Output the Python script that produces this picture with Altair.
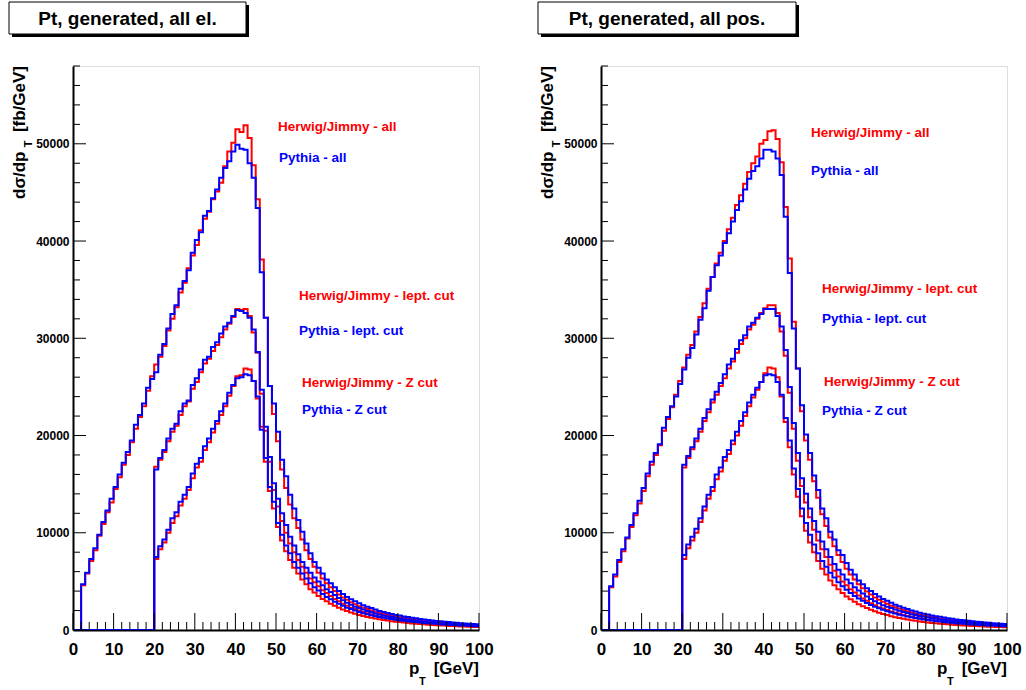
import altair as alt
import pandas as pd

# ---------------- data (fb/GeV per 1 GeV bin, bins 0..99) ----------------
PT_EDGES = list(range(101))

EL_HERWIG_ALL = [
    0, 0, 4600, 5800, 7100, 8200, 9700, 10900, 12100, 13100,
    14500, 15700, 17000, 18000, 19300, 20700, 21900, 23000, 24600, 26100,
    27300, 28100, 29200, 30800, 32000, 33200, 34700, 35700, 37200, 38500,
    39600, 41100, 42300, 43000, 44300, 45100, 46000, 47700, 49200, 50100,
    51500, 51200, 51900, 50600, 47800, 44300, 38100, 32100, 25100, 22200,
    19400, 16500, 14600, 12900, 11500, 10500, 9300, 8200, 7300, 6500,
    5900, 5300, 4800, 4400, 4000, 3650, 3350, 3100, 2850, 2650,
    2450, 2300, 2150, 2000, 1880, 1760, 1650, 1550, 1460, 1380,
    1300, 1230, 1160, 1100, 1040, 990, 940, 890, 850, 810,
    770, 730, 700, 660, 630, 600, 570, 550, 520, 500]
EL_PYTHIA_ALL = [
    0, 0, 4700, 5900, 7300, 8400, 9800, 11100, 12300, 13500,
    14700, 16000, 17200, 18300, 19500, 21100, 22100, 23300, 24900, 25800,
    26500, 28300, 29400, 31000, 32500, 33400, 35100, 35900, 37000, 38800,
    40100, 40900, 42600, 43100, 44400, 45300, 46500, 47500, 48200, 49200,
    49900, 49500, 49400, 48000, 46500, 43400, 36800, 32100, 25100, 23300,
    20400, 17500, 15800, 13900, 12500, 11300, 10100, 8900, 7900, 7000,
    6400, 5800, 5200, 4800, 4400, 4000, 3700, 3400, 3150, 2950,
    2750, 2550, 2400, 2250, 2100, 1950, 1850, 1750, 1650, 1550,
    1480, 1400, 1330, 1260, 1200, 1140, 1080, 1030, 980, 930,
    890, 850, 810, 770, 740, 700, 670, 640, 610, 580]
EL_HERWIG_LEPT = [
    0, 0, 0, 0, 0, 0, 0, 0, 0, 0,
    0, 0, 0, 0, 0, 0, 0, 0, 0, 0,
    16800, 17500, 18300, 19400, 20400, 21000, 22100, 23000, 23500, 24800,
    25500, 26500, 27400, 27900, 28700, 29300, 30100, 30900, 31500, 32200,
    33000, 32900, 33000, 32300, 30600, 28500, 24300, 20500, 17300, 14400,
    12700, 11200, 10000, 8900, 8000, 7200, 6500, 5900, 5300, 4900,
    4500, 4100, 3800, 3500, 3200, 2950, 2700, 2500, 2300, 2150,
    2000, 1850, 1720, 1600, 1500, 1400, 1310, 1230, 1150, 1080,
    1010, 950, 890, 840, 790, 750, 710, 670, 630, 600,
    570, 540, 510, 490, 460, 440, 420, 400, 380, 360]
EL_PYTHIA_LEPT = [
    0, 0, 0, 0, 0, 0, 0, 0, 0, 0,
    0, 0, 0, 0, 0, 0, 0, 0, 0, 0,
    16500, 17700, 18500, 19700, 20700, 21200, 22500, 23300, 23600, 25200,
    25900, 26800, 27800, 28100, 29100, 29600, 30500, 31200, 31600, 32300,
    32900, 32800, 32600, 32100, 30900, 28600, 24700, 20900, 17800, 15100,
    13500, 12000, 10800, 9600, 8700, 7800, 7000, 6400, 5900, 5400,
    5000, 4600, 4200, 3900, 3600, 3300, 3050, 2800, 2600, 2400,
    2250, 2100, 1950, 1820, 1700, 1600, 1500, 1410, 1330, 1250,
    1180, 1110, 1050, 990, 940, 890, 840, 800, 760, 720,
    680, 650, 620, 590, 560, 530, 510, 480, 460, 440]
EL_HERWIG_Z = [
    0, 0, 0, 0, 0, 0, 0, 0, 0, 0,
    0, 0, 0, 0, 0, 0, 0, 0, 0, 0,
    7300, 8300, 9000, 10000, 11000, 11700, 12800, 13500, 14400, 15600,
    16700, 17300, 18500, 19300, 20300, 21200, 22100, 23000, 24100, 25100,
    26100, 26200, 26900, 26800, 25600, 23800, 20900, 17300, 14300, 12500,
    10600, 9200, 8100, 7200, 6400, 5800, 5200, 4700, 4200, 3850,
    3500, 3200, 2950, 2700, 2500, 2300, 2100, 1950, 1800, 1670,
    1550, 1440, 1340, 1250, 1170, 1100, 1030, 970, 910, 860,
    810, 760, 720, 680, 640, 610, 580, 550, 520, 490,
    470, 450, 420, 400, 380, 360, 350, 330, 320, 300]
EL_PYTHIA_Z = [
    0, 0, 0, 0, 0, 0, 0, 0, 0, 0,
    0, 0, 0, 0, 0, 0, 0, 0, 0, 0,
    7500, 8600, 9300, 10300, 11500, 12100, 13200, 13900, 14700, 16100,
    17100, 17700, 18900, 19700, 20700, 21500, 22500, 23300, 24400, 25200,
    25900, 26000, 26300, 26200, 25600, 24000, 20600, 17700, 14700, 13200,
    11000, 9800, 8700, 7900, 7000, 6400, 5800, 5300, 4800, 4400,
    4050, 3700, 3400, 3150, 2900, 2700, 2500, 2300, 2150, 2000,
    1850, 1730, 1620, 1520, 1420, 1340, 1260, 1190, 1120, 1060,
    1000, 950, 900, 850, 810, 770, 730, 690, 660, 630,
    600, 570, 540, 520, 500, 470, 450, 430, 410, 390]

POS_HERWIG_ALL = [
    0, 0, 4400, 5500, 7000, 8100, 9400, 10600, 11800, 13000,
    14300, 15800, 17000, 18000, 19000, 20500, 21700, 22900, 24200, 25600,
    27000, 28300, 29300, 30700, 32200, 33600, 35100, 36300, 37700, 38800,
    40000, 41200, 42400, 43700, 44700, 45900, 47100, 48000, 48700, 50000,
    50400, 51300, 51400, 50500, 48100, 43500, 38200, 31700, 26900, 22500,
    19500, 17500, 15300, 13600, 11900, 10700, 9500, 8600, 7700, 7000,
    6300, 5700, 5200, 4700, 4300, 3950, 3650, 3350, 3100, 2900,
    2700, 2500, 2350, 2200, 2050, 1920, 1800, 1690, 1590, 1500,
    1410, 1330, 1250, 1180, 1120, 1060, 1000, 950, 900, 860,
    810, 770, 740, 700, 670, 640, 610, 580, 560, 530]
POS_PYTHIA_ALL = [
    0, 0, 4500, 5700, 7200, 8300, 9500, 10800, 12000, 13300,
    14600, 16100, 17300, 18200, 19100, 20800, 21900, 23000, 24000, 25300,
    26800, 28000, 29000, 30400, 31900, 33100, 34900, 36300, 37500, 38500,
    39800, 40800, 42000, 43200, 44100, 45300, 46400, 47200, 47700, 48500,
    49400, 49400, 49200, 48500, 46800, 42500, 36700, 31000, 26900, 23100,
    20100, 18200, 15900, 14400, 12500, 11500, 10100, 9300, 8200, 7700,
    6900, 6200, 5700, 5100, 4700, 4300, 4000, 3700, 3450, 3200,
    3000, 2800, 2600, 2450, 2300, 2150, 2000, 1900, 1780, 1680,
    1590, 1500, 1420, 1350, 1280, 1210, 1150, 1090, 1040, 990,
    940, 890, 850, 810, 770, 740, 700, 670, 640, 610]
POS_HERWIG_LEPT = [
    0, 0, 0, 0, 0, 0, 0, 0, 0, 0,
    0, 0, 0, 0, 0, 0, 0, 0, 0, 0,
    16700, 17700, 18600, 19400, 20400, 21500, 22400, 23400, 24200, 25100,
    25900, 26900, 27600, 28500, 29400, 30000, 30900, 31400, 32000, 32600,
    33100, 33400, 33400, 32600, 30700, 28200, 24400, 20700, 17400, 14800,
    13100, 11600, 10300, 9200, 8300, 7500, 6700, 6100, 5500, 5000,
    4600, 4200, 3850, 3550, 3250, 3000, 2750, 2550, 2350, 2200,
    2050, 1900, 1780, 1660, 1550, 1450, 1360, 1280, 1200, 1130,
    1060, 1000, 940, 890, 840, 790, 750, 710, 670, 640,
    600, 570, 540, 520, 490, 470, 450, 430, 410, 390]
POS_PYTHIA_LEPT = [
    0, 0, 0, 0, 0, 0, 0, 0, 0, 0,
    0, 0, 0, 0, 0, 0, 0, 0, 0, 0,
    17000, 17900, 18800, 19700, 20700, 21800, 22700, 23700, 24500, 25400,
    26300, 27300, 27900, 28900, 29800, 30300, 31200, 31600, 32100, 32500,
    33000, 33000, 33000, 32300, 31200, 28800, 25000, 21300, 18200, 15600,
    14000, 12500, 11200, 10100, 9100, 8300, 7500, 6800, 6200, 5700,
    5200, 4800, 4400, 4050, 3750, 3450, 3200, 2950, 2750, 2550,
    2400, 2250, 2100, 1970, 1850, 1740, 1630, 1540, 1450, 1370,
    1290, 1220, 1150, 1090, 1030, 980, 930, 880, 840, 800,
    760, 720, 690, 660, 630, 600, 570, 550, 520, 500]
POS_HERWIG_Z = [
    0, 0, 0, 0, 0, 0, 0, 0, 0, 0,
    0, 0, 0, 0, 0, 0, 0, 0, 0, 0,
    7300, 8400, 9200, 10000, 11100, 12300, 13500, 14300, 15500, 16300,
    17400, 18100, 19100, 20000, 21000, 22000, 23000, 23900, 24700, 25500,
    26400, 27000, 26900, 26000, 24000, 21400, 18800, 16000, 13700, 11700,
    10200, 9000, 8000, 7100, 6300, 5700, 5100, 4600, 4200, 3800,
    3450, 3150, 2900, 2650, 2450, 2250, 2080, 1920, 1780, 1650,
    1530, 1420, 1320, 1230, 1150, 1070, 1000, 940, 880, 830,
    780, 730, 690, 650, 610, 580, 550, 520, 490, 470,
    440, 420, 400, 380, 360, 340, 330, 310, 300, 280]
POS_PYTHIA_Z = [
    0, 0, 0, 0, 0, 0, 0, 0, 0, 0,
    0, 0, 0, 0, 0, 0, 0, 0, 0, 0,
    7700, 8800, 9600, 10400, 11500, 12700, 13900, 14700, 16000, 16700,
    17800, 18500, 19500, 20400, 21500, 22400, 23400, 24200, 24900, 25500,
    26200, 26300, 26200, 25500, 24200, 21800, 19500, 16600, 14500, 12500,
    11000, 9800, 8800, 7900, 7100, 6500, 5900, 5400, 4900, 4500,
    4150, 3800, 3500, 3250, 3000, 2780, 2580, 2400, 2230, 2080,
    1940, 1810, 1690, 1580, 1480, 1390, 1300, 1230, 1160, 1090,
    1030, 970, 920, 870, 820, 780, 740, 700, 660, 630,
    600, 570, 540, 510, 490, 470, 450, 430, 410, 390]

SERIES_LABELS = ["Herwig/Jimmy - all", "Pythia - all",
                 "Herwig/Jimmy - lept. cut", "Pythia - lept. cut",
                 "Herwig/Jimmy - Z cut", "Pythia - Z cut"]
PANEL_TITLES = ["Pt, generated, all el.", "Pt, generated, all pos."]
X_LABEL_VALUES = [0, 10, 20, 30, 40, 50, 60, 70, 80, 90, 100]
X_MINOR_VALUES = [v for v in range(0, 101, 2) if v % 10 != 0]
Y_LABEL_VALUES = [0, 10000, 20000, 30000, 40000, 50000]
Y_MINOR_VALUES = [v for v in range(0, 58001, 2000) if v % 10000 != 0]

RED = "#ff0000"
BLUE = "#0000ff"
FONT = "Liberation Sans"
W, H = 406, 564


def hist_frame(named):
    rows = []
    for name, vals in named:
        for i, edge in enumerate(PT_EDGES):
            v = vals[min(i, len(vals) - 1)]
            rows.append({"series": name, "pt": edge, "val": v})
    return pd.DataFrame(rows)


def one_row():
    return pd.DataFrame({"k": [0]})


def panel(title, red_series, blue_series, title_box, legend_pos):
    xs = alt.Scale(domain=[0, 100], nice=False, zero=False)
    ys = alt.Scale(domain=[0, 58000], nice=False)
    x_axis = alt.Axis(values=X_LABEL_VALUES, ticks=False, tickSize=0, grid=False,
                      domain=True, domainColor="black", domainWidth=2,
                      labelFont=FONT, labelFontSize=17, labelFontWeight="bold",
                      labelColor="black", labelFlush=False, labelOverlap=False,
                      labelPadding=11, title=None)
    y_axis = alt.Axis(values=Y_LABEL_VALUES, ticks=False, tickSize=0, grid=False,
                      domain=True, domainColor="black", domainWidth=2,
                      labelFont=FONT, labelFontSize=12, labelFontWeight="bold",
                      labelColor="black", labelFlush=False, labelOverlap=False,
                      labelPadding=4, format="d", title=None)

    red = alt.Chart(hist_frame(red_series)).mark_line(
        interpolate="step-after", strokeWidth=2, color=RED, clip=True
    ).encode(x=alt.X("pt:Q", scale=xs, axis=x_axis),
             y=alt.Y("val:Q", scale=ys, axis=y_axis),
             detail="series:N")
    blue = alt.Chart(hist_frame(blue_series)).mark_line(
        interpolate="step-after", strokeWidth=2, color=BLUE, clip=True
    ).encode(x=alt.X("pt:Q", scale=xs, axis=x_axis),
             y=alt.Y("val:Q", scale=ys, axis=y_axis),
             detail="series:N")

    def xt(vals, length):
        return alt.Chart(pd.DataFrame({"t": vals})).mark_rule(
            color="black", strokeWidth=1).encode(
            x=alt.X("t:Q", scale=xs, axis=x_axis),
            y=alt.value(H), y2=alt.value(H - length))

    def yt(vals, length):
        return alt.Chart(pd.DataFrame({"t": vals})).mark_rule(
            color="black", strokeWidth=1).encode(
            y=alt.Y("t:Q", scale=ys, axis=y_axis),
            x=alt.value(0), x2=alt.value(length))

    layers = [red, blue, xt(X_LABEL_VALUES, 17), xt(X_MINOR_VALUES, 8),
              yt(Y_LABEL_VALUES, 13), yt(Y_MINOR_VALUES, 7)]

    # legend-like labels
    colors = [RED, BLUE, RED, BLUE, RED, BLUE]
    for lab, col, (px, py) in zip(SERIES_LABELS, colors, legend_pos):
        layers.append(alt.Chart(one_row()).mark_text(
            align="left", baseline="middle", font=FONT, fontSize=13.5,
            fontWeight="bold", color=col).encode(
            x=alt.value(px), y=alt.value(py), text=alt.value(lab)))

    # axis titles
    tstyle = dict(font=FONT, fontWeight="bold", color="black")
    layers.append(alt.Chart(one_row()).mark_text(
        align="right", baseline="alphabetic", fontSize=17, **tstyle).encode(
        x=alt.value(W), y=alt.value(608), text=alt.value("[GeV]")))
    layers.append(alt.Chart(one_row()).mark_text(
        align="left", baseline="alphabetic", fontSize=17, **tstyle).encode(
        x=alt.value(336), y=alt.value(608), text=alt.value("p")))
    layers.append(alt.Chart(one_row()).mark_text(
        align="left", baseline="alphabetic", fontSize=11, **tstyle).encode(
        x=alt.value(346), y=alt.value(619), text=alt.value("T")))
    layers.append(alt.Chart(one_row()).mark_text(
        align="right", baseline="middle", angle=270, fontSize=17, **tstyle).encode(
        x=alt.value(-53), y=alt.value(0), text=alt.value("[fb/GeV]")))
    layers.append(alt.Chart(one_row()).mark_text(
        align="left", baseline="middle", angle=270, fontSize=17, **tstyle).encode(
        x=alt.value(-53), y=alt.value(133), text=alt.value("d\u03c3/dp")))
    layers.append(alt.Chart(one_row()).mark_text(
        align="center", baseline="middle", angle=270, fontSize=11, **tstyle).encode(
        x=alt.value(-44), y=alt.value(78), text=alt.value("T")))

    # title box with shadow
    bx1, bx2, by1, by2 = title_box
    layers.append(alt.Chart(one_row()).mark_rect(color="black").encode(
        x=alt.value(bx1 + 3), x2=alt.value(bx2 + 3),
        y=alt.value(by1 + 3), y2=alt.value(by2 + 3)))
    layers.append(alt.Chart(one_row()).mark_rect(
        fill="white", stroke="black", strokeWidth=1).encode(
        x=alt.value(bx1), x2=alt.value(bx2), y=alt.value(by1), y2=alt.value(by2)))
    layers.append(alt.Chart(one_row()).mark_text(
        align="center", baseline="middle", fontSize=19, **tstyle).encode(
        x=alt.value((bx1 + bx2) / 2), y=alt.value((by1 + by2) / 2 + 1),
        text=alt.value(title)))

    return alt.layer(*layers).properties(width=W, height=H)


left = panel(PANEL_TITLES[0],
             [("h_all", EL_HERWIG_ALL), ("h_lept", EL_HERWIG_LEPT), ("h_z", EL_HERWIG_Z)],
             [("p_all", EL_PYTHIA_ALL), ("p_lept", EL_PYTHIA_LEPT), ("p_z", EL_PYTHIA_Z)],
             (-64, 173, -64, -32),
             [(205, 61), (206, 92), (226, 230), (226, 265), (229, 317), (229, 344)])
right = panel(PANEL_TITLES[1],
              [("h_all", POS_HERWIG_ALL), ("h_lept", POS_HERWIG_LEPT), ("h_z", POS_HERWIG_Z)],
              [("p_all", POS_PYTHIA_ALL), ("p_lept", POS_PYTHIA_LEPT), ("p_z", POS_PYTHIA_Z)],
              (-63, 195, -64, -32),
              [(210, 67), (210, 105), (221, 223), (221, 253), (223, 316), (221, 345)])

chart = alt.hconcat(left, right, spacing=122, bounds="flush").properties(
    padding={"left": 8, "top": 1, "right": 0, "bottom": 0}
).configure_view(stroke="black", strokeWidth=1).configure(background="white")

chart.save("out.html", embed_options={"renderer": "svg", "actions": False})
